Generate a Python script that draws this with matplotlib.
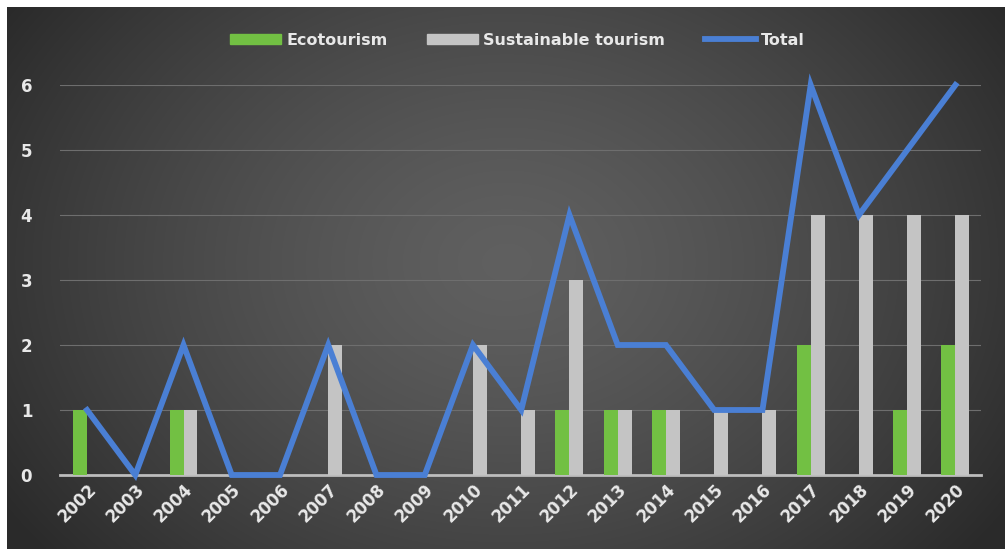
import numpy as np
import matplotlib
matplotlib.use('Agg')
import matplotlib.pyplot as plt
from matplotlib.lines import Line2D
from matplotlib.patches import Patch

years = [str(y) for y in range(2002, 2021)]
ecotourism = [1, 0, 1, 0, 0, 0, 0, 0, 0, 0, 1, 1, 1, 0, 0, 2, 0, 1, 2]
sustainable = [0, 0, 1, 0, 0, 2, 0, 0, 2, 1, 3, 1, 1, 1, 1, 4, 4, 4, 4]
total = [1, 0, 2, 0, 0, 2, 0, 0, 2, 1, 4, 2, 2, 1, 1, 6, 4, 5, 6]

green = '#72c043'
grey = '#c4c4c4'
blue = '#4a7fd4'
text_col = '#e8e8e8'

fig = plt.figure(figsize=(10.05, 5.51), dpi=100)
fig.patch.set_facecolor('white')

# radial gradient background
bg = fig.add_axes([7 / 1005, 2 / 551, 998 / 1005, 542 / 551])
h, w = 271, 499
yy, xx = np.mgrid[0:h, 0:w]
cx, cy = w * 0.5, h * 0.47
r = np.sqrt(((xx - cx) / (w * 0.6)) ** 2 + ((yy - cy) / (h * 0.85)) ** 2)
r = np.clip(r, 0, 1)
shade = 0.375 - 0.21 * r ** 1.4
img = np.dstack([shade, shade, shade])
bg.imshow(img, aspect='auto', interpolation='bilinear')
bg.axis('off')

ax = fig.add_axes([60 / 1005, 1 - 475 / 551, 921 / 1005, 390 / 551])
ax.set_facecolor('none')

x = np.arange(len(years))
bw = 0.29
ax.bar(x - bw / 2, ecotourism, bw, color=green, zorder=2)
ax.bar(x + bw / 2, sustainable, bw, color=grey, zorder=2)
ax.plot(x, total, color=blue, lw=4.2, zorder=3, clip_on=False,
        solid_joinstyle='miter')

ax.set_xlim(-0.56, 18.53)
ax.set_ylim(0, 6)
ax.set_yticks(range(7))
ax.yaxis.grid(True, color='#6e6e6e', lw=0.8, zorder=0)
ax.set_axisbelow(True)
for s in ['top', 'right', 'left']:
    ax.spines[s].set_visible(False)
ax.spines['bottom'].set_color('#bdbdbd')
ax.spines['bottom'].set_linewidth(2)
ax.spines['bottom'].set_zorder(1)

ax.tick_params(axis='y', length=0, pad=20, labelcolor=text_col, labelsize=12)
ax.tick_params(axis='x', length=0, pad=4, labelcolor=text_col, labelsize=12)
for lab in ax.get_yticklabels():
    lab.set_fontweight('bold')
ax.set_xticks(x)
ax.set_xticklabels(years, rotation=45, ha='right', va='top',
                   rotation_mode='anchor', fontweight='bold')

handles = [Patch(color=green, label='Ecotourism'),
           Patch(color=grey, label='Sustainable tourism'),
           Line2D([], [], color=blue, lw=4.2, label='Total')]
leg = fig.legend(handles=handles, loc='center', bbox_to_anchor=(0.515, 0.927),
                 ncol=3, frameon=False, handlelength=3.2, handleheight=0.55,
                 handletextpad=0.3, columnspacing=2.5,
                 prop={'weight': 'bold', 'size': 11.5})
for t in leg.get_texts():
    t.set_color(text_col)

fig.savefig('out.png', dpi=100)
